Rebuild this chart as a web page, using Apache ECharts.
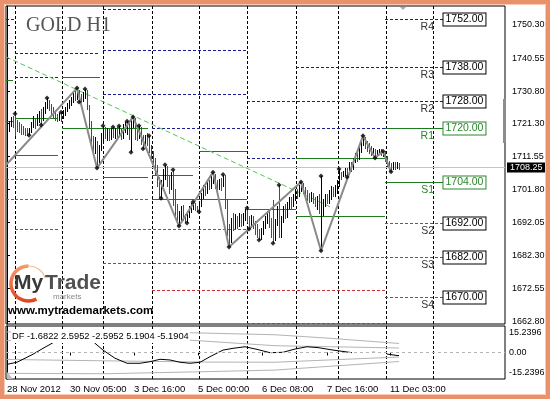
<!DOCTYPE html>
<html><head><meta charset="utf-8">
<script src="https://cdn.jsdelivr.net/npm/echarts@6/dist/echarts.min.js"></script>
<style>html,body{margin:0;padding:0;background:#fff}#c{width:550px;height:400px}</style>
</head><body><div id="c"></div>
<script>
// ---- DATA ----
// H1 bars: [open, close, low, high]
const candles = [
[1718.5,1720.2,1717.6,1720.8],[1719.5,1721.5,1718.8,1722.0],[1721.0,1722.8,1720.2,1723.2],[1723.0,1721.5,1720.0,1723.6],
[1722.0,1720.5,1717.5,1724.1],[1721.0,1720.0,1718.8,1722.3],[1720.5,1719.5,1718.4,1721.6],[1720.0,1719.2,1718.0,1721.0],
[1719.8,1718.8,1717.9,1720.5],[1719.4,1718.6,1717.6,1720.0],[1719.2,1718.4,1717.5,1719.8],[1718.4,1719.6,1717.8,1720.0],
[1719.0,1721.0,1718.5,1721.6],[1720.5,1722.0,1719.8,1723.5],[1722.0,1720.8,1719.5,1722.5],[1721.0,1723.5,1720.5,1724.0],
[1723.0,1724.2,1721.5,1724.8],[1724.0,1722.5,1720.8,1725.5],[1722.5,1725.0,1722.0,1726.2],[1725.0,1727.0,1724.0,1727.6],
[1726.8,1727.8,1725.5,1728.8],[1727.5,1726.0,1725.0,1728.2],[1726.2,1725.0,1723.8,1727.0],[1725.2,1724.0,1722.8,1726.0],
[1724.2,1723.0,1722.0,1725.2],[1723.2,1722.5,1721.6,1724.0],[1722.5,1723.8,1722.0,1724.3],[1723.8,1723.0,1721.8,1724.6],
[1723.0,1724.5,1722.6,1725.2],[1724.4,1725.5,1723.6,1726.2],[1725.4,1726.5,1724.5,1727.2],[1726.4,1727.5,1725.5,1728.2],
[1727.3,1728.5,1726.4,1729.2],[1728.3,1729.5,1727.4,1730.2],[1729.5,1728.8,1727.8,1730.8],[1728.8,1730.8,1728.2,1731.7],
[1730.6,1729.2,1727.6,1731.2],[1729.2,1728.0,1727.2,1730.0],[1728.0,1729.8,1727.5,1730.6],[1729.6,1730.6,1728.5,1731.4],
[1730.5,1726.0,1725.2,1731.0],[1726.0,1721.0,1720.0,1726.8],[1721.0,1716.0,1714.8,1722.0],[1716.0,1713.0,1711.6,1717.5],
[1713.0,1716.0,1712.2,1717.2],[1715.5,1710.0,1708.1,1716.2],[1710.0,1714.0,1709.0,1715.0],[1714.0,1717.5,1713.2,1718.5],
[1717.5,1719.5,1716.2,1720.6],[1719.5,1718.0,1716.8,1720.2],[1718.0,1719.0,1716.2,1719.8],[1719.0,1717.2,1716.0,1719.6],
[1717.2,1719.5,1716.5,1720.0],[1719.5,1718.5,1717.0,1720.2],[1718.5,1719.2,1716.6,1719.8],[1719.2,1718.0,1716.9,1720.1],
[1718.0,1719.8,1717.3,1720.5],[1719.5,1718.2,1716.4,1720.0],[1718.2,1720.5,1716.8,1721.0],[1720.3,1721.2,1718.5,1721.8],
[1721.0,1721.6,1718.0,1721.9],[1721.6,1719.0,1716.5,1722.0],[1719.0,1721.8,1712.8,1722.5],[1721.5,1722.6,1719.8,1723.2],
[1722.5,1719.0,1716.5,1723.0],[1719.0,1718.5,1716.2,1720.3],[1718.5,1720.0,1716.8,1720.6],[1720.0,1717.0,1714.8,1720.3],
[1717.0,1715.5,1713.8,1718.0],[1715.5,1717.5,1714.6,1718.0],[1717.5,1716.0,1714.5,1718.3],[1716.8,1714.0,1712.5,1717.6],
[1714.0,1712.0,1710.2,1714.8],[1712.0,1710.0,1708.5,1713.0],[1710.0,1708.5,1706.0,1711.0],[1708.5,1704.0,1702.5,1709.0],
[1704.0,1700.5,1699.4,1705.5],[1700.5,1703.5,1699.2,1704.5],[1703.5,1707.0,1702.5,1707.8],[1706.5,1708.3,1704.5,1709.1],
[1708.3,1705.0,1702.5,1708.8],[1705.0,1702.0,1700.5,1706.0],[1702.0,1706.5,1701.5,1707.0],[1706.5,1701.0,1697.0,1707.6],
[1701.0,1696.0,1694.0,1702.0],[1696.0,1693.0,1691.5,1697.5],[1693.0,1694.5,1691.0,1695.5],[1694.0,1696.0,1692.5,1697.0],
[1696.0,1693.5,1692.5,1697.2],[1693.5,1692.8,1692.0,1694.6],[1692.8,1694.8,1691.9,1695.5],[1694.6,1696.0,1693.5,1696.8],
[1696.0,1697.2,1694.8,1697.8],[1697.0,1697.5,1695.6,1698.1],[1697.5,1696.5,1695.5,1697.8],[1696.5,1695.8,1695.2,1697.0],
[1695.8,1697.5,1695.2,1698.0],[1697.5,1700.0,1696.5,1700.8],[1700.0,1702.0,1699.0,1703.0],[1702.0,1701.0,1699.8,1702.8],
[1701.0,1703.8,1700.5,1704.5],[1703.8,1702.5,1701.5,1704.6],[1702.5,1705.5,1702.0,1706.0],[1705.5,1706.0,1703.5,1706.9],
[1706.0,1703.0,1702.0,1706.5],[1703.0,1702.2,1701.0,1704.5],[1702.2,1704.0,1701.5,1705.0],[1704.0,1703.0,1701.2,1705.2],
[1703.0,1705.5,1702.5,1706.2],[1705.5,1698.0,1696.0,1706.0],[1698.0,1690.0,1688.0,1699.0],[1690.0,1687.0,1684.8,1691.5],
[1687.0,1692.0,1686.0,1693.5],[1692.0,1691.0,1689.5,1694.8],[1691.0,1693.0,1690.0,1694.5],[1693.0,1691.5,1690.2,1694.0],
[1691.5,1693.5,1690.8,1694.8],[1693.5,1692.0,1690.6,1694.5],[1692.0,1694.0,1691.0,1695.0],[1694.0,1695.5,1692.5,1696.0],
[1695.5,1693.0,1692.0,1696.3],[1693.0,1691.0,1690.1,1694.0],[1691.0,1693.5,1690.5,1694.2],[1693.5,1691.5,1690.0,1694.0],
[1691.5,1690.0,1688.5,1692.5],[1690.0,1688.5,1687.5,1691.5],[1688.5,1687.5,1686.9,1690.0],[1687.5,1689.5,1687.0,1690.5],
[1689.5,1691.5,1688.5,1692.5],[1691.5,1693.0,1690.0,1694.0],[1693.0,1694.5,1691.5,1695.5],[1694.5,1692.0,1690.5,1695.5],
[1692.0,1689.0,1687.5,1693.5],[1689.0,1687.0,1685.9,1698.7],[1687.0,1692.0,1686.5,1693.0],[1692.0,1696.0,1691.0,1697.0],
[1696.0,1688.0,1687.5,1703.1],[1688.0,1693.0,1687.5,1694.0],[1693.0,1696.0,1692.0,1697.0],[1696.0,1694.5,1693.0,1697.5],
[1694.5,1697.0,1693.5,1698.2],[1697.0,1698.5,1696.0,1699.5],[1698.5,1697.5,1696.0,1699.5],[1697.5,1699.5,1696.5,1700.5],
[1699.5,1701.0,1698.5,1701.8],[1701.0,1700.5,1699.0,1702.0],[1700.5,1702.5,1699.5,1703.0],[1702.5,1703.0,1701.0,1704.0],
[1703.0,1701.5,1700.5,1703.8],[1701.5,1700.5,1699.5,1702.5],[1700.5,1699.8,1698.5,1701.5],[1699.8,1699.0,1697.8,1700.8],
[1699.0,1700.0,1698.0,1701.0],[1700.0,1698.5,1697.5,1700.8],[1698.5,1697.5,1696.5,1699.5],[1697.5,1698.5,1695.8,1699.8],
[1698.5,1696.0,1694.5,1700.5],[1696.0,1698.0,1683.7,1705.8],[1695.0,1698.0,1694.0,1699.0],[1698.0,1699.5,1696.5,1700.5],
[1699.5,1698.5,1697.5,1700.5],[1698.5,1700.5,1697.5,1701.5],[1700.5,1701.5,1698.8,1702.8],[1701.5,1700.5,1699.5,1702.5],
[1700.5,1702.0,1699.5,1703.0],[1702.0,1703.5,1700.5,1704.5],[1703.5,1706.0,1702.5,1707.8],[1706.0,1705.5,1704.5,1707.0],
[1705.5,1706.8,1705.5,1707.3],[1706.5,1707.5,1705.8,1708.2],[1707.5,1706.5,1705.5,1708.0],[1706.5,1709.0,1706.0,1709.8],
[1709.0,1708.0,1707.0,1710.0],[1708.0,1710.5,1707.5,1711.2],[1710.5,1711.8,1709.5,1712.5],[1711.8,1711.0,1709.8,1712.6],
[1711.0,1713.5,1710.5,1714.2],[1713.5,1715.5,1712.5,1716.0],[1715.5,1716.5,1714.5,1717.6],[1716.5,1715.0,1713.8,1717.2],
[1715.0,1714.0,1712.8,1716.2],[1714.0,1713.2,1712.2,1715.5],[1713.2,1712.5,1711.6,1714.6],[1712.5,1713.2,1711.5,1714.0],
[1713.2,1712.0,1711.1,1713.8],[1712.0,1712.8,1711.5,1713.4],[1712.8,1713.0,1712.0,1713.6],[1713.0,1712.5,1711.8,1713.6],
[1712.5,1712.9,1711.5,1713.1],[1712.8,1711.0,1709.8,1713.0],[1711.0,1709.5,1708.5,1711.6],[1709.5,1708.0,1707.2,1710.2],
[1708.0,1707.8,1707.0,1709.5],[1707.8,1709.0,1707.4,1709.8],[1709.0,1708.2,1707.6,1710.0],[1708.2,1708.8,1707.8,1709.8],
[1708.8,1708.25,1707.6,1709.5]
];
// fractal markers [bar, price]
const fractals = [[4,1724.1],[11,1717.8],[17,1720.8],[20,1728.8],[27,1724.6],[35,1731.7],[36,1727.6],[39,1731.4],[45,1708.1],[48,1720.6],[53,1720.2],[56,1720.5],[60,1721.9],[62,1712.8],[63,1723.2],[66,1720.6],[68,1713.8],[71,1717.6],[77,1699.2],[79,1709.1],[83,1707.6],[86,1691.0],[90,1691.9],[93,1698.1],[96,1695.2],[103,1706.9],[108,1706.2],[111,1684.8],[120,1696.3],[121,1690.1],[126,1686.9],[133,1685.9],[136,1703.1],[147,1704.0],[157,1705.8],[157,1683.7],[166,1707.8],[170,1705.5],[178,1717.6],[184,1711.1],[188,1713.1],[192,1707.0]];
// zigzag swing points [bar, price]
const zigzag = [[-0.5,1709.0],[35,1731.7],[45,1708.1],[63,1723.2],[86,1691.0],[103,1706.9],[111,1684.8],[147,1704.0],[157,1683.7],[178,1717.6],[184,1711.1],[188,1713.1],[192,1707.0]];
// trend line [bar, price]
const trendLine = [[-0.5,1740.9],[163,1696.3]];
// daily levels [startBar, endBar, price, kind]  R = resistance (dashed blue), P = green, S = support (dashed red)
const dailyLevels = [
[-0.5,4,1752,'R'],[-0.5,3,1745,'P'],[-0.5,3,1734,'P'],[-0.5,3,1722,'P'],[-0.5,4,1705,'S'],[-0.5,4,1699,'S'],
[4,46.5,1742,'R'],[4,25.5,1735,'R'],[4,25.5,1723,'P'],[4,25.5,1712,'P'],[4,46.5,1705,'S'],[4,70.5,1699,'S'],[4,26.5,1690,'S'],
[27.5,46.5,1735,'P'],[27.5,70.5,1720,'P'],
[48,71.5,1755,'R'],[48,120,1743,'R'],[48,120,1730,'R'],[48,70.5,1705.5,'P'],[48,120,1690,'S'],[48,120,1680,'S'],
[72.5,189,1720,'R'],[72.5,93,1706,'P'],[72.5,120,1699,'P'],[72.5,189,1672,'S'],
[96,120,1713,'P'],
[120,189,1728,'R'],[120,144.5,1711,'R'],[120,144.5,1696,'P'],[120,144.5,1682,'P'],[120,189,1662.5,'S'],
[144.5,189,1738,'R'],[144.5,189,1711,'P'],[144.5,189,1694,'P'],[144.5,189,1682,'S']
];
// current day levels
const lastDaySpan = [189, 218];
const levelNames  = ['R4','R3','R2','R1','S1','S2','S3','S4'];
const levelPrices = [1752,1738,1728,1720,1704,1692,1682,1670];
const levelKinds  = ['R','R','R','P','P','S','S','S'];
// day separators (bar positions)
const separators = [4,27.5,48,72.5,96,120,144.5,165.5,189.5,213];
// time axis
const timeLabels = ['28 Nov 2012','30 Nov 05:00','3 Dec 16:00','5 Dec 00:00','6 Dec 08:00','7 Dec 16:00','11 Dec 03:00'];
const timeLabelBars = [0,31.5,63.5,95.5,127.5,160,191.5];
// price axis
const priceTicks = [1662.80,1672.55,1682.30,1692.05,1701.80,1711.55,1721.30,1730.80,1740.55,1750.30];
const priceMin = 1662.12, priceMax = 1755.90;
// DF indicator
const dfLine = [[0,-6.8],[5,-5.6],[13,-1.0],[18,2.4],[23,5.6],[27,8.0],[33,10.5],[38,10.0],[42,7.5],[44,5.3],[48,1.4],[54,-3.3],[60,-6.2],[66.5,-6.2],[71.5,-5.3],[76.5,-3.9],[81.5,-4.3],[86.5,-5.6],[91.5,-6.2],[96.5,-5.6],[101.5,-2.4],[108,1.4],[113,2.4],[119,3.3],[125,1.8],[131.5,-0.1],[138,0.1],[144,2.0],[150,3.3],[155.5,2.8],[163,1.4],[172.5,-0.1],[175,null],[182.5,0.1],[184,0.1],[186,null],[190,-0.9],[195.5,-1.8],[196,-1.6822]];
const bandUpOuter = [[0,11.8],[40,12.0],[90,11.4],[134,10.2],[160,8.3],[196,5.1904]];
const bandUpInner = [[0,6.8],[50,7.0],[90,7.2],[134,3.9],[196,2.5952]];
const bandLoInner = [[0,-4.0],[50,-4.8],[100,-5.5],[134,-5.6],[196,-2.5952]];
const bandLoOuter = [[0,-12.0],[50,-12.2],[100,-11.0],[134,-10.1],[196,-5.1904]];
const dfLegendValues = [-1.6822,2.5952,-2.5952,5.1904,-5.1904];
const dfTicks = [-15.2396,0,15.2396];

// ---- CHART ----
const FONT = "'Liberation Sans',sans-serif";
const RED = '#d41010';
const kindStyle = {
  R:{stroke:'#1c1c96', lineDash:[3,2]},
  P:{stroke:'#1e7a1e', lineDash:null},
  S:{stroke:'#c83030', lineDash:[3,2]}
};
const lastClose = candles[candles.length-1][1];

function sepRender(params, api){
  const cs = params.coordSys;
  const x = Math.round(api.coord([api.value(0), api.value(1)])[0]) + 0.5;
  return {type:'line', shape:{x1:x,y1:cs.y,x2:x,y2:cs.y+cs.height}, style:{stroke:'#000',lineWidth:1,lineDash:[3,2]}};
}

const chart = echarts.init(document.getElementById('c'), null, {renderer:'canvas'});
chart.setOption({
  animation:false,
  backgroundColor:'#fff',
  textStyle:{fontFamily:FONT},
  grid:[
    {left:6, top:6, width:499, height:318, show:true, borderColor:'#000', borderWidth:1, backgroundColor:'#fff', outerBoundsMode:'none', containLabel:false},
    {left:6, top:326, width:499, height:53, show:true, borderColor:'#000', borderWidth:1, backgroundColor:'#fff', outerBoundsMode:'none', containLabel:false}
  ],
  xAxis:[
    {type:'value', gridIndex:0, min:-0.5, max:249, show:true, axisLine:{show:false}, axisTick:{show:false}, axisLabel:{show:false}, splitLine:{show:false}},
    {type:'value', gridIndex:1, min:-0.5, max:249, axisLine:{show:false}, splitLine:{show:false},
     axisTick:{show:true, customValues:timeLabelBars, length:3, lineStyle:{color:'#000'}},
     axisLabel:{customValues:timeLabelBars, formatter:v=>timeLabels[timeLabelBars.indexOf(v)], align:'left', margin:5, color:'#000', fontSize:9.5, fontFamily:FONT}}
  ],
  yAxis:[
    {type:'value', gridIndex:0, position:'right', min:priceMin, max:priceMax, splitLine:{show:false},
     axisLine:{show:true, lineStyle:{color:'#000'}},
     axisTick:{show:true, customValues:priceTicks, length:3, lineStyle:{color:'#000'}},
     axisLabel:{customValues:priceTicks, formatter:v=>v.toFixed(2), margin:7, color:'#000', fontSize:9, fontFamily:FONT}},
    {type:'value', gridIndex:1, position:'right', min:-15.2396, max:15.2396, splitLine:{show:false},
     axisLine:{show:true, lineStyle:{color:'#000'}},
     axisTick:{show:false},
     axisLabel:{customValues:dfTicks, margin:4, color:'#000', fontSize:9, fontFamily:FONT,
       formatter:v=> v>0 ? '{t|'+v.toFixed(4)+'}' : (v<0 ? '{b|'+v.toFixed(4)+'}' : '0.00'),
       rich:{t:{padding:[14,0,0,0], fontSize:9, color:'#000', fontFamily:FONT}, b:{padding:[0,0,13,0], fontSize:9, color:'#000', fontFamily:FONT}}}},
    {type:'value', gridIndex:0, position:'right', min:priceMin, max:priceMax, splitLine:{show:false},
     axisLine:{show:false}, axisTick:{show:false},
     axisLabel:{customValues:[lastClose], formatter:v=>v.toFixed(2), margin:2, color:'#fff', backgroundColor:'#000', padding:[1,3,0,3], fontSize:9, fontFamily:FONT}}
  ],
  series:[
    {type:'custom', name:'sepMain', xAxisIndex:0, yAxisIndex:0, silent:true, data:separators.map(v=>[v,1700]), encode:{x:0,y:1}, renderItem:sepRender, z:1},
    {type:'custom', name:'levels', xAxisIndex:0, yAxisIndex:0, silent:true, clip:true, z:2,
     data:dailyLevels.map(s=>[s[0],s[2],s[1]]), encode:{x:[0,2],y:1},
     renderItem:(params, api)=>{
       const s = dailyLevels[params.dataIndex];
       const a = api.coord([s[0], s[2]]), b = api.coord([s[1], s[2]]);
       const y = Math.round(a[1]) + 0.5;
       const st = kindStyle[s[3]];
       return {type:'line', shape:{x1:a[0],y1:y,x2:b[0],y2:y}, style:{stroke:st.stroke, lineWidth:1, lineDash:st.lineDash}};
     }},
    {type:'custom', name:'todayLevels', xAxisIndex:0, yAxisIndex:0, silent:true, clip:true, z:3,
     data:levelPrices.map(p=>[lastDaySpan[0], p, lastDaySpan[1]]), encode:{x:[0,2],y:1},
     renderItem:(params, api)=>{
       const i = params.dataIndex, p = levelPrices[i], k = levelKinds[i];
       const a = api.coord([lastDaySpan[0], p]), b = api.coord([lastDaySpan[1], p]);
       const y = Math.round(a[1]) + 0.5;
       const st = kindStyle[k];
       const green = k === 'P';
       const col = green ? '#2a862a' : '#000';
       return {type:'group', children:[
         {type:'line', shape:{x1:a[0],y1:y,x2:b[0],y2:y}, style:{stroke:st.stroke, lineWidth:1, lineDash:st.lineDash}},
         {type:'text', x:Math.round(b[0])+0.5, y:y, style:{text:p.toFixed(2), fill:col, font:'10.5px '+FONT, align:'left', verticalAlign:'middle', backgroundColor:'#fff', borderColor:col, borderWidth:1, padding:[1,2,0,2]}},
         {type:'text', x:b[0]-9, y:y+2, style:{text:levelNames[i], fill: green ? '#2a862a' : '#333', font:'10.5px '+FONT, align:'right', verticalAlign:'top'}}
       ]};
     }},
    {type:'line', name:'lastPrice', xAxisIndex:0, yAxisIndex:0, data:[[-0.5,lastClose]], symbol:'none', silent:true, lineStyle:{opacity:0}, z:3,
     markLine:{silent:true, symbol:'none', label:{show:false}, lineStyle:{color:'#c4c4c4', type:'solid', width:1}, data:[{yAxis:lastClose}]}},
    {type:'line', name:'trend', xAxisIndex:0, yAxisIndex:0, data:trendLine, symbol:'none', silent:true, z:4,
     lineStyle:{color:'#56c456', width:1, type:[5,3]}},
    {type:'custom', name:'bars', xAxisIndex:0, yAxisIndex:0, silent:true, clip:true, z:5,
     data:candles.map((c,i)=>[i,c[0],c[1],c[2],c[3]]), encode:{x:0,y:[1,2,3,4]},
     renderItem:(params, api)=>{
       const x = api.value(0), o = api.value(1), c = api.value(2), l = api.value(3), h = api.value(4);
       const pH = api.coord([x,h]), pL = api.coord([x,l]);
       const px = Math.round(pH[0]) + 0.5;
       return {type:'line', shape:{x1:px,y1:Math.round(pH[1]),x2:px,y2:Math.max(Math.round(pL[1]),Math.round(pH[1])+1)}, style:{stroke: c<o ? RED : '#000', lineWidth:1}};
     }},
    {type:'line', name:'zigzag', xAxisIndex:0, yAxisIndex:0, data:zigzag, symbol:'none', silent:true, z:6,
     lineStyle:{color:'#8a8a8a', width:2}},
    {type:'scatter', name:'fractals', xAxisIndex:0, yAxisIndex:0, data:fractals, symbol:'diamond', symbolSize:[5,5], silent:true, z:7,
     itemStyle:{color:'#000'}},
    {type:'custom', name:'sepDF', xAxisIndex:1, yAxisIndex:1, silent:true, data:separators.map(v=>[v,0]), encode:{x:0,y:1}, renderItem:sepRender, z:1},
    {type:'line', xAxisIndex:1, yAxisIndex:1, data:bandUpOuter, symbol:'none', silent:true, lineStyle:{color:'#b4b4b4', width:1}, z:2},
    {type:'line', xAxisIndex:1, yAxisIndex:1, data:bandUpInner, symbol:'none', silent:true, lineStyle:{color:'#b4b4b4', width:1}, z:2},
    {type:'line', xAxisIndex:1, yAxisIndex:1, data:bandLoInner, symbol:'none', silent:true, lineStyle:{color:'#b4b4b4', width:1}, z:2},
    {type:'line', xAxisIndex:1, yAxisIndex:1, data:bandLoOuter, symbol:'none', silent:true, lineStyle:{color:'#b4b4b4', width:1}, z:2},
    {type:'line', name:'DF', xAxisIndex:1, yAxisIndex:1, data:dfLine, symbol:'none', silent:true, connectNulls:false, z:3,
     lineStyle:{color:'#000', width:1},
     markLine:{silent:true, symbol:'none', label:{show:false}, lineStyle:{color:'#b4b4b4', type:[3,3], width:1}, data:[{yAxis:0}]}}
  ],
  graphic:[
    {type:'text', z:50, x:26, y:26, style:{text:'GOLD H1', font:"20px 'Liberation Serif',serif", fill:'#555', verticalAlign:'middle'}},
    {type:'arc', z:50, shape:{cx:28.5, cy:283.5, r:17.5, startAngle:Math.PI*1.5, endAngle:Math.PI*1.9, clockwise:true}, style:{stroke:'#f3b89a', lineWidth:1.2, fill:'none'}},
    {type:'arc', z:50, shape:{cx:28.5, cy:283.5, r:17.5, startAngle:Math.PI*0.35, endAngle:Math.PI*1.5, clockwise:true},
     style:{stroke:{type:'linear', x:0, y:0, x2:0, y2:1, colorStops:[{offset:0,color:'#f5a070'},{offset:1,color:'#e0401c'}]}, lineWidth:3.5, fill:'none'}},
    {type:'text', z:51, x:14, y:283, style:{text:'My', font:"bold 21px 'Liberation Sans',sans-serif", fill:'#3a3a3a', verticalAlign:'middle'}},
    {type:'text', z:51, x:45, y:283, style:{text:'Trade', font:"bold 21px 'Liberation Sans',sans-serif", fill:'#505050', verticalAlign:'middle'}},
    {type:'text', z:51, x:53, y:297, style:{text:'markets', font:"8px 'Liberation Sans',sans-serif", fill:'#888', verticalAlign:'middle'}},
    {type:'text', z:51, x:8, y:311, style:{text:'www.mytrademarkets.com', font:"bold 11.5px 'Liberation Sans',sans-serif", fill:'#000', verticalAlign:'middle'}},
    {type:'text', z:60, x:11, y:336.5, style:{text:'DF ' + dfLegendValues.map(v=>v.toFixed(4)).join(' '), font:'9.3px '+FONT, fill:'#000', verticalAlign:'middle', backgroundColor:'#fff', padding:[2,1,2,1]}},
    {type:'rect', z:60, shape:{x:503, y:99, width:3, height:44}, style:{fill:'#8c8c8c'}},
    {type:'polygon', z:60, shape:{points:[[400,7],[406,7],[403,10]]}, style:{fill:'#aaa'}},
    {type:'polygon', z:60, shape:{points:[[7,372],[7,379],[13,379]]}, style:{fill:'#bbb'}},
    {type:'rect', z:100, silent:true, shape:{x:2, y:2, width:546, height:395}, style:{fill:'none', stroke:'#e8916a', lineWidth:4}},
    {type:'rect', z:100, silent:true, shape:{x:4.5, y:4.5, width:541, height:390}, style:{fill:'none', stroke:'#f6cbb6', lineWidth:1}}
  ]
});
</script>
</body></html>
